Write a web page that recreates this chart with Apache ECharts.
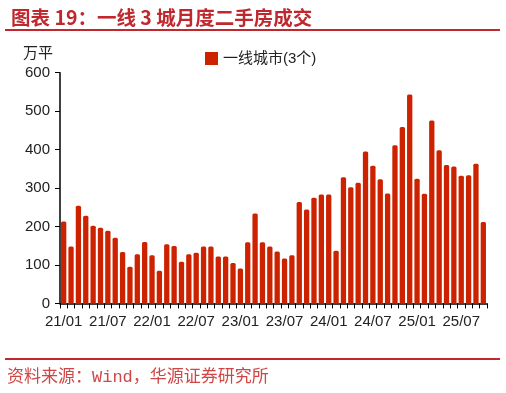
<!DOCTYPE html>
<html>
<head>
<meta charset="utf-8">
<script src="https://cdn.jsdelivr.net/npm/echarts@6/dist/echarts.min.js"></script>
<style>
html,body{margin:0;padding:0;background:#fff;}
#c{width:506px;height:393px;}
</style>
</head>
<body>
<div id="c"></div>
<script>
const titleText = '图表 19：一线 3 城月度二手房成交';
const sourceText = '资料来源：Wind，华源证券研究所';
const seriesName = '一线城市(3个)';
const unitLabel = '万平';
const months = [
 '21/01','21/02','21/03','21/04','21/05','21/06','21/07','21/08','21/09','21/10','21/11','21/12',
 '22/01','22/02','22/03','22/04','22/05','22/06','22/07','22/08','22/09','22/10','22/11','22/12',
 '23/01','23/02','23/03','23/04','23/05','23/06','23/07','23/08','23/09','23/10','23/11','23/12',
 '24/01','24/02','24/03','24/04','24/05','24/06','24/07','24/08','24/09','24/10','24/11','24/12',
 '25/01','25/02','25/03','25/04','25/05','25/06','25/07','25/08','25/09','25/10'
];
const values = [
 213,148,254,228,202,197,189,171,134,95,128,160,
 125,85,154,149,108,128,132,148,148,122,122,105,
 91,159,234,159,148,135,117,125,264,244,275,283,
 283,137,328,302,314,395,358,323,286,411,459,543,
 324,285,476,398,360,356,332,333,363,212
];
const yTicks = [0,100,200,300,400,500,600];
const xLabelMonths = ['21/01','21/07','22/01','22/07','23/01','23/07','24/01','24/07','25/01','25/07'];

const red = '#c0282e';
const chart = echarts.init(document.getElementById('c'), null, {renderer:'canvas'});
chart.setOption({
  animation:false,
  backgroundColor:'#fff',
  title:{
    text:titleText, left:6, top:3,
    textStyle:{color:red, fontSize:19.5, fontWeight:'bold', fontFamily:'"Noto Sans CJK SC", sans-serif'}
  },
  legend:{
    left:200, top:46, itemWidth:13, itemHeight:13, itemGap:5,
    icon:'rect',
    textStyle:{fontSize:15, color:'#222', fontFamily:'"Liberation Sans","Noto Sans CJK SC",sans-serif'},
    data:[seriesName]
  },
  graphic:[
    {type:'line', shape:{x1:5,y1:30,x2:500,y2:30}, style:{stroke:red, lineWidth:2}},
    {type:'line', shape:{x1:5,y1:359,x2:500,y2:359}, style:{stroke:red, lineWidth:2}},
    {type:'text', left:7, top:369, style:{text:sourceText, fill:'#d04545', font:'17px "Liberation Mono","Noto Sans CJK SC",monospace'}},
    {type:'text', left:23, top:45, style:{text:unitLabel, fill:'#222', font:'15px "Noto Sans CJK SC",sans-serif'}}
  ],
  grid:{left:60, right:19, top:72.7, bottom:89.6, containLabel:false},
  xAxis:{
    type:'category', data:months, boundaryGap:true,
    axisLine:{lineStyle:{color:'#000', width:1.5}},
    axisTick:{show:true, interval:0, length:5, lineStyle:{color:'#000'}},
    axisLabel:{
      interval:0, color:'#222', fontSize:15, margin:11,
      fontFamily:'"Liberation Sans",Arial,sans-serif',
      formatter:function(v){ return xLabelMonths.indexOf(v)>=0 ? v : ''; }
    }
  },
  yAxis:{
    type:'value', min:0, max:600, interval:100,
    axisLine:{show:true, lineStyle:{color:'#000', width:1.5}},
    axisTick:{show:true, length:5, lineStyle:{color:'#000'}},
    splitLine:{show:false},
    axisLabel:{color:'#222', fontSize:15, margin:10, fontFamily:'"Liberation Sans",Arial,sans-serif',
      formatter:function(v){ return yTicks.indexOf(v)>=0 ? String(v) : ''; }}
  },
  series:[{
    name:seriesName, type:'bar', data:values, barCategoryGap:'28%',
    itemStyle:{color:'#cc2200', borderRadius:[1.5,1.5,0,0]}
  }]
});
</script>
</body>
</html>
